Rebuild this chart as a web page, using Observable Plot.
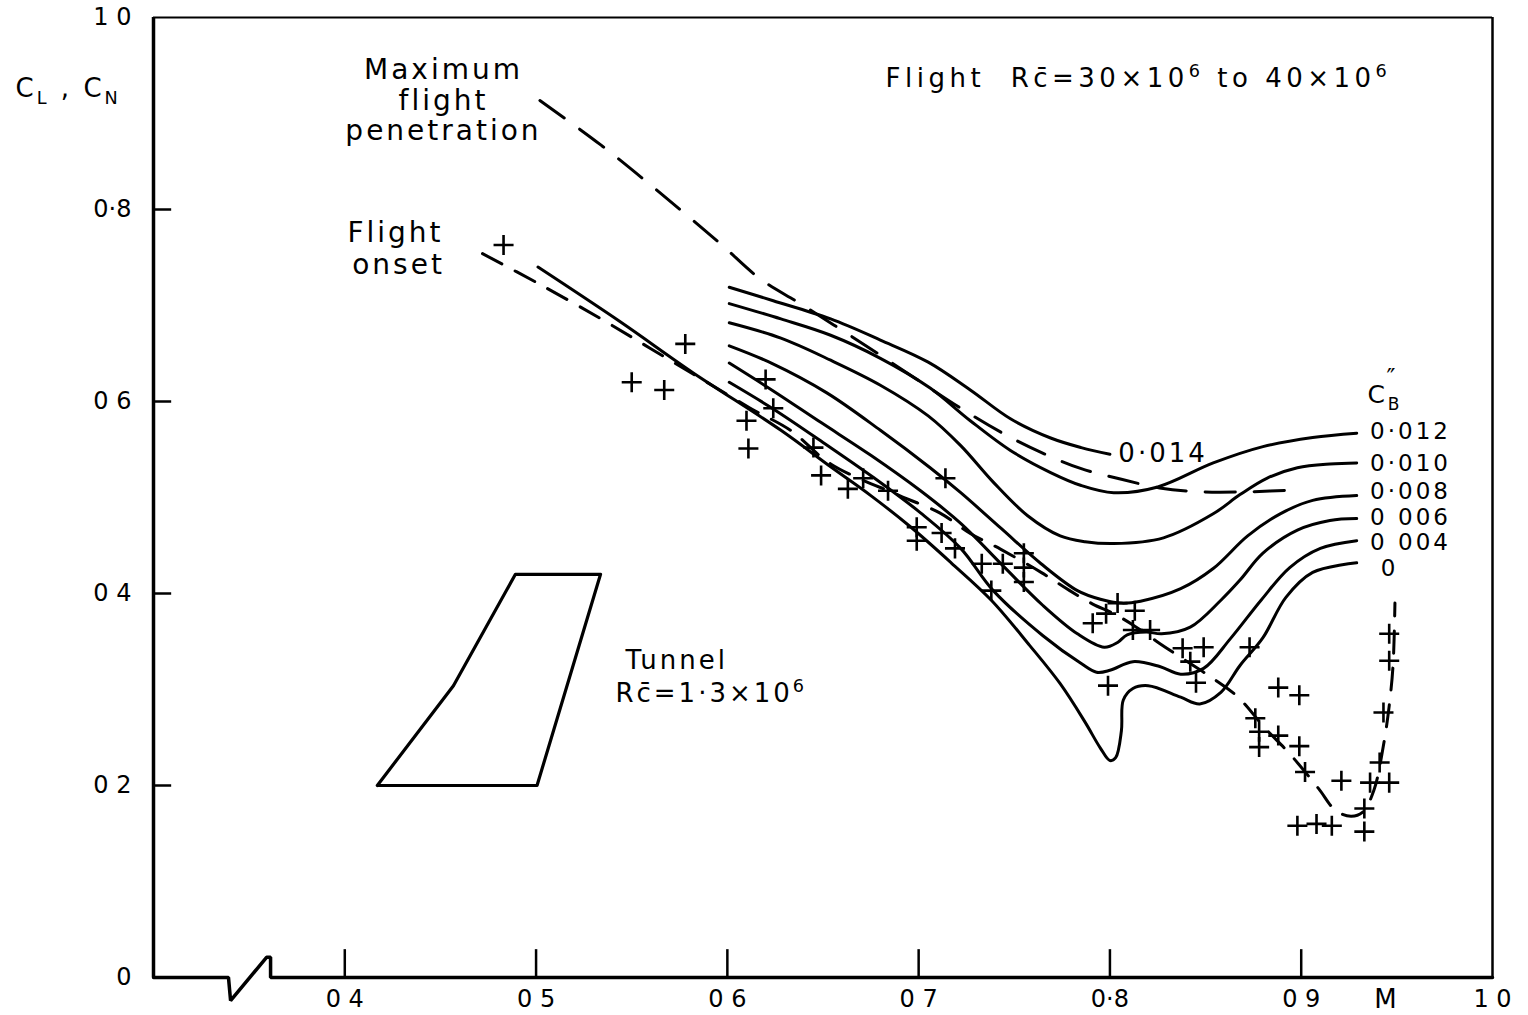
<!DOCTYPE html>
<html><head><meta charset="utf-8">
<script src="https://cdn.jsdelivr.net/npm/d3@7"></script>
<script src="https://cdn.jsdelivr.net/npm/@observablehq/plot@0.6"></script>
<style>
html,body{margin:0;padding:0;background:#fff;}
#chart svg{display:block;}
#chart svg text{letter-spacing:3px;}
</style></head><body><div id="chart"></div>
<script>
// ---- axis ticks & labels ----
const xTicks = [0.4, 0.5, 0.6, 0.7, 0.8, 0.9];
const xLabelPos = [0.4, 0.5, 0.6, 0.7, 0.8, 0.9, 1.0];
const xTickLabels = ["0 4", "0 5", "0 6", "0 7", "0·8", "0 9", "1 0"];
const yTicks = [0.2, 0.4, 0.6, 0.8];
const yLabelPos = [0, 0.2, 0.4, 0.6, 0.8, 1.0];
const yTickLabels = ["0", "0 2", "0 4", "0 6", "0·8", "1 0"];
const axisBreak = [[0.3,0],[0.3392,0],[0.3403,-0.024],[0.3591,0.021],[0.3612,0.021],[0.3612,0],[1.0,0]];

// ---- tunnel buffet contours, CB'' = const (M, CL) ----
const cb014 = [[0.601,0.719],[0.624,0.705],[0.654,0.686],[0.680,0.664],[0.705,0.641],[0.727,0.612],[0.748,0.582],[0.769,0.562],[0.785,0.552],[0.800,0.545]];
const cb012 = [[0.601,0.702],[0.628,0.686],[0.654,0.669],[0.680,0.645],[0.706,0.614],[0.727,0.580],[0.748,0.549],[0.769,0.526],[0.785,0.5125],[0.802,0.505],[0.825,0.511],[0.854,0.536],[0.880,0.553],[0.906,0.5625],[0.929,0.567]];
const cb010 = [[0.601,0.682],[0.628,0.666],[0.654,0.643],[0.680,0.617],[0.705,0.585],[0.722,0.554],[0.739,0.516],[0.757,0.481],[0.774,0.460],[0.787,0.454],[0.802,0.452],[0.828,0.458],[0.854,0.483],[0.868,0.503],[0.882,0.520],[0.898,0.531],[0.915,0.535],[0.929,0.536]];
const cb008 = [[0.601,0.658],[0.623,0.640],[0.652,0.609],[0.680,0.570],[0.706,0.531],[0.722,0.505],[0.743,0.468],[0.764,0.431],[0.783,0.403],[0.795,0.394],[0.806,0.390],[0.816,0.392],[0.837,0.405],[0.854,0.426],[0.872,0.460],[0.889,0.483],[0.906,0.497],[0.929,0.502]];
const cb006 = [[0.601,0.640],[0.624,0.611],[0.649,0.578],[0.675,0.544],[0.701,0.507],[0.722,0.473],[0.744,0.429],[0.765,0.3875],[0.783,0.358],[0.797,0.344],[0.804,0.349],[0.809,0.357],[0.819,0.360],[0.827,0.358],[0.842,0.365],[0.858,0.393],[0.868,0.414],[0.880,0.442],[0.898,0.466],[0.915,0.476],[0.929,0.478]];
const cb004 = [[0.601,0.620],[0.625,0.591],[0.651,0.556],[0.677,0.520],[0.701,0.484],[0.722,0.447],[0.739,0.403],[0.765,0.356],[0.785,0.327],[0.793,0.318],[0.800,0.320],[0.812,0.329],[0.826,0.324],[0.837,0.316],[0.849,0.322],[0.863,0.353],[0.879,0.393],[0.894,0.427],[0.910,0.447],[0.929,0.455]];
const cb000 = [[0.501,0.740],[0.544,0.683],[0.582,0.630],[0.628,0.570],[0.654,0.532],[0.675,0.502],[0.696,0.469],[0.717,0.432],[0.738,0.393],[0.758,0.346],[0.774,0.306],[0.787,0.266],[0.795,0.239],[0.800,0.226],[0.803,0.229],[0.806,0.257],[0.807,0.289],[0.812,0.301],[0.820,0.304],[0.837,0.292],[0.847,0.285],[0.858,0.297],[0.868,0.325],[0.880,0.354],[0.892,0.396],[0.906,0.422],[0.929,0.432]];
const contourKeys = ["0.014","0.012","0.010","0.008","0.006","0.004","0"];
const contourSeries = [cb014, cb012, cb010, cb008, cb006, cb004, cb000];

// ---- flight boundaries (dashed) ----
const maxPenetration = [[0.502,0.9135],[0.534,0.867],[0.565,0.817],[0.596,0.765],[0.617,0.728],[0.638,0.702],[0.664,0.669],[0.690,0.635],[0.722,0.593],[0.743,0.568],[0.764,0.547],[0.785,0.530],[0.806,0.519],[0.826,0.510],[0.847,0.506],[0.873,0.506],[0.899,0.508]];
const flightOnset = [[0.472,0.754],[0.502,0.722],[0.534,0.686],[0.560,0.655],[0.586,0.624],[0.612,0.593],[0.633,0.570],[0.654,0.535],[0.690,0.502],[0.711,0.484],[0.727,0.4625],[0.743,0.446],[0.764,0.422],[0.779,0.403],[0.791,0.389],[0.802,0.379],[0.813,0.366],[0.826,0.348],[0.842,0.327],[0.855,0.310],[0.867,0.292],[0.881,0.260],[0.894,0.233],[0.909,0.197],[0.918,0.174],[0.926,0.168],[0.932,0.172],[0.938,0.195],[0.943,0.242],[0.946,0.283],[0.948,0.325],[0.949,0.390]];

// ---- flight test points ----
const flightPoints = [[0.483,0.763],[0.550,0.620],[0.567,0.612],[0.578,0.660],[0.610,0.580],[0.611,0.551],[0.620,0.623],[0.624,0.593],[0.645,0.552],[0.649,0.523],[0.663,0.509],[0.671,0.520],[0.684,0.507],[0.699,0.469],[0.699,0.455],[0.712,0.463],[0.714,0.520],[0.719,0.447],[0.733,0.431],[0.738,0.403],[0.744,0.431],[0.755,0.442],[0.755,0.427],[0.755,0.412],[0.791,0.369],[0.798,0.379],[0.799,0.304],[0.804,0.390],[0.813,0.382],[0.812,0.362],[0.821,0.362],[0.838,0.343],[0.849,0.344],[0.842,0.329],[0.845,0.307],[0.873,0.344],[0.888,0.302],[0.899,0.294],[0.876,0.270],[0.878,0.256],[0.878,0.240],[0.888,0.252],[0.899,0.241],[0.902,0.214],[0.921,0.205],[0.946,0.358],[0.946,0.330],[0.943,0.276],[0.941,0.224],[0.936,0.203],[0.946,0.203],[0.933,0.176],[0.933,0.152],[0.898,0.158],[0.908,0.160],[0.916,0.158]];

// ---- tunnel region ----
const tunnelRegion = [[0.417,0.2],[0.5005,0.2],[0.5337,0.42],[0.4892,0.42],[0.4568,0.304],[0.417,0.2]];

// ---- annotations ----
const centerNotes = [
  {t:"Maximum", M:0.4516, C:0.945},
  {t:"flight", M:0.4516, C:0.9135},
  {t:"penetration", M:0.4516, C:0.882},
  {t:"Flight", M:0.4265, C:0.776},
  {t:"onset", M:0.4281, C:0.742}
];
const flightNote = [{t:"Flight  Rc̄=30×10^{6} to 40×10^{6}", M:0.6827, C:0.936}];
const startNotes = [
  {t:"Tunnel", M:0.5467, C:0.330},
  {t:"Rc̄=1·3×10^{6}", M:0.5415, C:0.296},
  {t:"C_{L} , C_{N}", M:0.2279, C:0.926},
  {t:"0·014", M:0.8044, C:0.546}
];
const levelLabels = [
  {t:"0·012", M:0.936, C:0.569},
  {t:"0·010", M:0.936, C:0.535},
  {t:"0·008", M:0.936, C:0.506},
  {t:"0 006", M:0.936, C:0.479},
  {t:"0 004", M:0.936, C:0.453},
  {t:"0", M:0.9416, C:0.426}
];
const cbHeading = [{t:"C_{B}", M:0.9346, C:0.607}];
const primeNote = [{t:"″", M:0.9477, C:0.624}];
const axisVarNote = [{t:"M", M:0.944, C:0}];

// build tables
const contours = contourSeries.flatMap((s, i) => s.map(([M, C]) => ({M, C, k: contourKeys[i]})));
const toRows = s => s.map(([M, C]) => ({M, C}));

const chart = Plot.plot({
  width: 1528, height: 1015,
  marginLeft: 153, marginRight: 36, marginTop: 17, marginBottom: 38,
  x: {domain: [0.3, 1.0], axis: null},
  y: {domain: [0, 1.0], axis: null},
  style: {fontFamily: "DejaVu Sans", background: "#fff", color: "#000", overflow: "visible"},
  marks: [
    // frame
    Plot.ruleY([1.0], {x1: 0.3, x2: 1.0, strokeWidth: 2}),
    Plot.ruleX([1.0], {y1: 0, y2: 1.0, strokeWidth: 2.5}),
    Plot.ruleX([0.3], {y1: 0, y2: 1.0, strokeWidth: 3.5}),
    Plot.line(toRows(axisBreak), {x: "M", y: "C", strokeWidth: 3.5, strokeLinejoin: "miter"}),
    Plot.ruleX(xTicks, {x: d => d, y1: 0, y2: 0.029, strokeWidth: 2.5}),
    Plot.ruleY(yTicks, {y: d => d, x1: 0.3, x2: 0.3095, strokeWidth: 2.5}),
    Plot.text(xLabelPos, {x: d => d, y: 0, text: (d, i) => xTickLabels[i], dy: 22, fontSize: 24}),
    Plot.text(yLabelPos, {x: 0.3, y: d => d, text: (d, i) => yTickLabels[i], dx: -22, textAnchor: "end", fontSize: 24}),
    Plot.text(axisVarNote, {x: "M", y: "C", text: "t", dy: 22, fontSize: 26}),
    // tunnel region
    Plot.line(toRows(tunnelRegion), {x: "M", y: "C", strokeWidth: 3.2, strokeLinejoin: "round"}),
    // contours
    Plot.line(contours, {x: "M", y: "C", z: "k", curve: "catmull-rom", strokeWidth: 3, strokeLinecap: "round"}),
    // flight boundaries
    Plot.line(toRows(maxPenetration), {x: "M", y: "C", curve: "catmull-rom", strokeWidth: 3, strokeDasharray: "30,19"}),
    Plot.line(toRows(flightOnset), {x: "M", y: "C", curve: "catmull-rom", strokeWidth: 3, strokeDasharray: "22,15"}),
    // flight points
    Plot.dot(toRows(flightPoints), {x: "M", y: "C", symbol: "plus", r: 6.5, stroke: "#000", strokeWidth: 2.6}),
    // annotations
    Plot.text(centerNotes, {x: "M", y: "C", text: "t", fontSize: 28}),
    Plot.text(flightNote, {x: "M", y: "C", text: "t", textAnchor: "start", fontSize: 26}),
    Plot.text(startNotes, {x: "M", y: "C", text: "t", textAnchor: "start", fontSize: 26}),
    Plot.text(levelLabels, {x: "M", y: "C", text: "t", textAnchor: "start", fontSize: 23}),
    Plot.text(cbHeading, {x: "M", y: "C", text: "t", textAnchor: "start", fontSize: 25}),
    Plot.text(primeNote, {x: "M", y: "C", text: "t", fontSize: 24})
  ]
});

// per-text letter spacing
const tickSet = new Set([...xTickLabels, ...yTickLabels, "M"]);
d3.select(chart).selectAll("text").each(function () {
  const s = this.textContent;
  if (tickSet.has(s)) d3.select(this).style("letter-spacing", "0px");
  if (s === flightNote[0].t) d3.select(this).style("letter-spacing", "4.5px");
});

// sub/superscript markup  _{..}  ^{..}
d3.select(chart).selectAll("text").each(function () {
  const s = this.textContent;
  if (!/[_^]\{/.test(s)) return;
  const sel = d3.select(this);
  sel.text(null);
  const re = /([_^])\{([^}]*)\}|([^_^]+)/g;
  let m, shift = 0;
  while ((m = re.exec(s))) {
    if (m[3]) { sel.append("tspan").attr("dy", -shift).text(m[3]); shift = 0; }
    else { const d = m[1] === "_" ? 7 : -10; sel.append("tspan").attr("dy", d - shift).attr("font-size", "68%").text(m[2]); shift = d; }
  }
});

document.getElementById("chart").appendChild(chart);
</script>
</body></html>
